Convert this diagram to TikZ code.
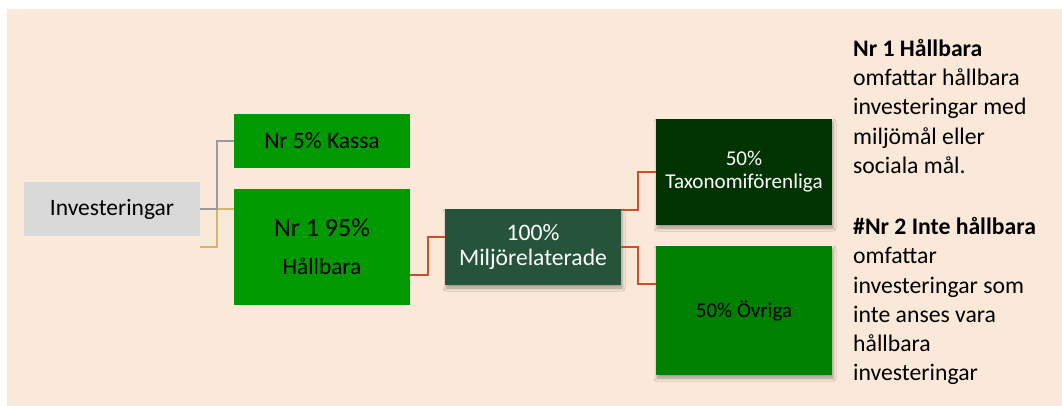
\documentclass[tikz,border=0pt]{standalone}
\usepackage{fontspec}
\setmainfont{Carlito}
\usetikzlibrary{calc,shadows.blur}
\definecolor{bg}{RGB}{250,232,216}
\definecolor{invgray}{RGB}{217,217,217}
\definecolor{gA}{RGB}{0,153,0}
\definecolor{gMil}{RGB}{38,84,58}
\definecolor{gTax}{RGB}{0,51,0}
\definecolor{gOvr}{RGB}{0,128,0}
\definecolor{lgray}{RGB}{155,155,155}
\definecolor{lyel}{RGB}{205,185,105}
\definecolor{lred}{RGB}{200,80,45}
\begin{document}
\begin{tikzpicture}[x=1pt,y=-1pt,
  box/.style={draw=none, inner sep=0pt, minimum width=176pt, align=center},
  shad/.style={blur shadow={shadow xshift=1pt, shadow yshift=-3pt, shadow blur radius=3pt, shadow opacity=35}},
  conn/.style={line width=1.6pt},
  desc/.style={anchor=base west, inner sep=0pt, font=\fontsize{23.7}{29.2}\selectfont}]
\useasboundingbox (0,0) rectangle (1062,406);
\fill[bg] (7,9) rectangle (1062,406);

\node[box, fill=invgray, minimum height=54pt, font=\fontsize{23.5}{28}\selectfont] (inv) at (112,209) {Investeringar};
\node[box, fill=gA, minimum height=54pt, font=\fontsize{23.5}{28}\selectfont] (kassa) at (322,141) {Nr 5\% Kassa};
\node[box, fill=gA, minimum height=116pt, font=\fontsize{23.3}{28}\selectfont] (hall) at (322,247) {{\fontsize{26}{28}\selectfont Nr 1 95\%}\\[10pt]Hållbara};
\node[box, shad, fill=gMil, text=white, minimum height=76pt, font=\fontsize{23.6}{25.7}\selectfont] (milj) at (533,247) {100\%\\Miljörelaterade};
\node[box, shad, fill=gTax, text=white, minimum height=106pt, font=\fontsize{21.1}{22.8}\selectfont] (tax) at (744,172) {50\%\\Taxonomiförenliga};
\node[box, shad, fill=gOvr, minimum height=129pt, font=\fontsize{21}{25}\selectfont] (ovr) at (744,310.5) {50\% Övriga};

\draw[conn, lyel] ($(inv.south east)+(0,11)$) -- ++(17,0) |- ($(hall.north west)+(0,20)$);
\draw[conn, lgray] (inv.east) -- ++(17,0) |- (kassa.west);
\draw[conn, lred] ($(hall.east)+(0,28)$) -- ++(18,0) |- ($(milj.west)+(0,-10)$);
\draw[conn, lred] ($(milj.north east)+(0,1)$) -- ++(17,0) |- (tax.west);
\draw[conn, lred] (milj.east) -- ++(17,0) |- ($(ovr.west)+(0,-26.5)$);

\node[desc] (d1) at (853,56.6) {\textbf{Nr 1 Hållbara}};
\node[desc] (d2) at (853,85.8) {omfattar hållbara};
\node[desc] (d3) at (853,115) {investeringar med};
\node[desc] (d4) at (853,144.2) {miljömål eller};
\node[desc] (d5) at (853,173.4) {sociala mål.};
\node[desc] (e1) at (853,234.6) {\textbf{\#Nr 2 Inte hållbara}};
\node[desc] (e2) at (853,263.8) {omfattar};
\node[desc] (e3) at (853,293) {investeringar som};
\node[desc] (e4) at (853,322.2) {inte anses vara};
\node[desc] (e5) at (853,351.4) {hållbara};
\node[desc] (e6) at (853,380.6) {investeringar};
\end{tikzpicture}
\end{document}
